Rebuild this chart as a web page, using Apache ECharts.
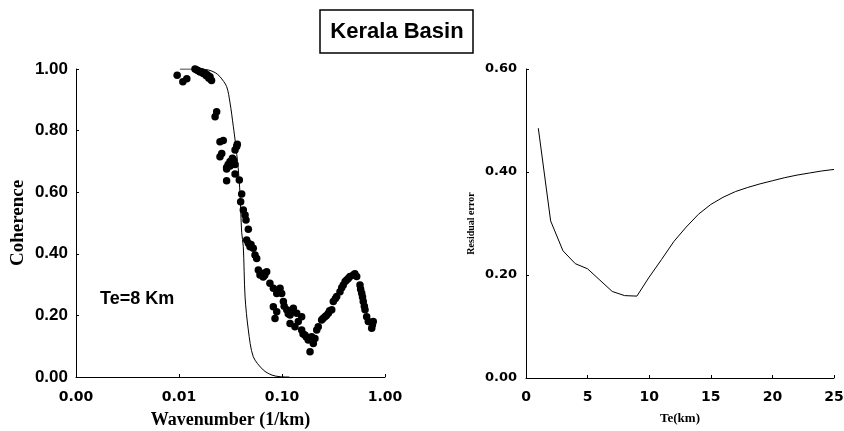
<!DOCTYPE html>
<html>
<head>
<meta charset="utf-8">
<script src="https://cdn.jsdelivr.net/npm/echarts@6/dist/echarts.min.js"></script>
<style>
html,body{margin:0;padding:0;background:#fff;}
#c{width:844px;height:431px;}
</style>
</head>
<body>
<div id="c"></div>
<script>
// Observed coherence (wavenumber 1/km, coherence)
const observedCoherence = [
[0.0083,1.005],[0.0096,0.98],[0.0109,0.959],[0.0119,0.968],
[0.0143,1.0],[0.0149,0.997],[0.0154,0.994],[0.0160,0.99],[0.0166,0.991],[0.0172,0.985],[0.0179,0.986],[0.0184,0.978],[0.0188,0.981],[0.0195,0.97],[0.0200,0.975],[0.0207,0.963],
[0.0224,0.845],[0.0232,0.861],
[0.0250,0.764],[0.0269,0.768],[0.0260,0.726],[0.0250,0.715],
[0.0290,0.68],[0.0300,0.69],[0.0313,0.70],[0.0325,0.695],[0.0337,0.705],[0.0350,0.69],[0.0313,0.685],[0.0290,0.675],[0.0330,0.71],
[0.0350,0.737],[0.0363,0.748],[0.0368,0.756],
[0.0290,0.637],[0.0350,0.659],[0.0385,0.64],[0.0406,0.594],[0.0397,0.569],[0.0421,0.542],[0.0438,0.526],[0.0447,0.51],[0.0471,0.48],
[0.0454,0.445],[0.0471,0.434],[0.0489,0.423],[0.0526,0.418],[0.0500,0.43],[0.0547,0.396],[0.0568,0.385],
[0.0589,0.347],[0.0611,0.331],[0.0657,0.337],[0.0710,0.342],[0.0657,0.325],[0.0680,0.33],
[0.0763,0.304],[0.0824,0.288],[0.0889,0.271],[0.0957,0.288],[0.0993,0.271],
[0.0824,0.228],[0.0889,0.212],[0.0855,0.19],
[0.1031,0.245],[0.1112,0.218],[0.1197,0.201],[0.1289,0.223],[0.1390,0.207],[0.1050,0.23],[0.1150,0.205],[0.125,0.215],
[0.1197,0.174],[0.1337,0.163],[0.1439,0.18],[0.1552,0.196],
[0.1552,0.153],[0.1671,0.136],[0.1798,0.12],[0.1941,0.131],[0.2089,0.125],[0.16,0.14],[0.172,0.13],
[0.1871,0.082],[0.2014,0.109],
[0.2173,0.153],[0.2249,0.163],[0.2425,0.185],[0.2612,0.196],[0.2818,0.207],[0.3041,0.218],[0.25,0.19],[0.27,0.2],[0.29,0.215],
[0.3148,0.245],[0.3396,0.261],[0.3656,0.277],[0.3936,0.299],[0.4246,0.315],[0.4571,0.326],[0.4921,0.331],[0.5309,0.326],[0.33,0.255],[0.38,0.29],[0.41,0.31],[0.44,0.32],[0.51,0.335],
[0.5715,0.299],[0.5943,0.272],[0.6152,0.245],[0.6397,0.218],[0.6637,0.196],[0.6887,0.18],[0.58,0.285],[0.605,0.26],[0.63,0.23],
[0.7430,0.158],[0.7691,0.18],[0.755,0.17]
];
// Predicted coherence curve for Te = 8 km
const predictedCoherence = [
[0.0102,1.0],[0.0150,1.0],[0.0192,0.997],[0.0225,0.988],[0.0250,0.975],[0.0290,0.943],[0.0313,0.89],[0.0337,0.813],[0.0352,0.764],[0.0375,0.68],[0.0391,0.596],[0.0406,0.47],[0.0421,0.423],[0.0438,0.26],[0.0471,0.153],[0.0526,0.066],[0.0657,0.023],[0.0800,0.006],[0.0957,0.001],[0.118,0.0]
];
// Residual error vs Te
const teValues = [1,2,3,4,5,6,7,8,9,10,11,12,13,14,15,16,17,18,19,20,21,22,23,24,25];
const residualError = [0.485,0.305,0.247,0.222,0.212,0.19,0.168,0.16,0.159,0.196,0.23,0.265,0.293,0.318,0.337,0.351,0.362,0.370,0.377,0.383,0.389,0.394,0.398,0.402,0.405];
const leftXTicks = ['0.00','0.01','0.10','1.00'];

const chart = echarts.init(document.getElementById('c'));
const sans = 'Liberation Sans, Arial, sans-serif';
const wide = 'DejaVu Sans, sans-serif';
const serif = 'Liberation Serif, Times New Roman, serif';
const axisLine = {show:true, lineStyle:{color:'#000', width:1}};
const tick = {show:true, inside:true, length:3, lineStyle:{color:'#000'}};
const fmt2 = function(v){return v.toFixed(2);};

chart.setOption({
  animation:false,
  backgroundColor:'#fff',
  grid:[
    {left:76, top:69, width:309, height:308, containLabel:false, outerBoundsMode:'none'},
    {left:526, top:69, width:308, height:309, containLabel:false, outerBoundsMode:'none'}
  ],
  xAxis:[
    {gridIndex:0, type:'log', logBase:10, min:0.001, max:1,
     axisLine, axisTick:tick, splitLine:{show:false}, minorTick:{show:false},
     axisLabel:{color:'#000', fontFamily:wide, fontWeight:'bold', fontSize:14, margin:13,
       formatter:function(v){const i = Math.round(Math.log10(v)) + 3; return leftXTicks[i] !== undefined ? leftXTicks[i] : v.toFixed(2);}},
     name:'Wavenumber (1/km)', nameLocation:'middle', nameGap:34,
     nameTextStyle:{color:'#000', fontFamily:serif, fontWeight:'bold', fontSize:18}},
    {gridIndex:1, type:'value', min:0, max:25, interval:5,
     axisLine, axisTick:tick, splitLine:{show:false},
     axisLabel:{color:'#000', fontFamily:wide, fontWeight:'bold', fontSize:14, margin:12},
     name:'Te(km)', nameLocation:'middle', nameGap:34,
     nameTextStyle:{color:'#000', fontFamily:serif, fontWeight:'bold', fontSize:13}}
  ],
  yAxis:[
    {gridIndex:0, type:'value', min:0, max:1, interval:0.2,
     axisLine, axisTick:tick, splitLine:{show:false},
     axisLabel:{color:'#000', fontFamily:sans, fontWeight:'bold', fontSize:17, margin:8, formatter:fmt2},
     name:'Coherence', nameLocation:'middle', nameGap:48,
     nameTextStyle:{color:'#000', fontFamily:serif, fontWeight:'bold', fontSize:19}},
    {gridIndex:1, type:'value', min:0, max:0.6, interval:0.2,
     axisLine, axisTick:tick, splitLine:{show:false},
     axisLabel:{color:'#000', fontFamily:wide, fontWeight:'bold', fontSize:13, margin:9, formatter:fmt2},
     name:'Residual error', nameLocation:'middle', nameGap:50,
     nameTextStyle:{color:'#000', fontFamily:serif, fontWeight:'bold', fontSize:10}}
  ],
  series:[
    {type:'scatter', xAxisIndex:0, yAxisIndex:0, data:observedCoherence,
     symbol:'circle', symbolSize:7.5, itemStyle:{color:'#000', opacity:1}},
    {type:'line', xAxisIndex:0, yAxisIndex:0, data:predictedCoherence,
     showSymbol:false, smooth:0.3, lineStyle:{color:'#000', width:1}},
    {type:'line', xAxisIndex:1, yAxisIndex:1, data:teValues.map((t,i)=>[t, residualError[i]]),
     showSymbol:false, lineStyle:{color:'#000', width:1}}
  ],
  graphic:[
    {type:'rect', shape:{x:320, y:10, width:153, height:43},
     style:{fill:'#fff', stroke:'#000', lineWidth:1.5}},
    {type:'text', x:397, y:32,
     style:{text:'Kerala Basin', fill:'#000', font:'bold 22px Liberation Sans, Arial, sans-serif', textAlign:'center', textVerticalAlign:'middle'}},
    {type:'text', x:100, y:299,
     style:{text:'Te=8 Km', fill:'#000', font:'bold 18px Liberation Sans, Arial, sans-serif', textAlign:'left', textVerticalAlign:'middle'}}
  ]
});
</script>
</body>
</html>
